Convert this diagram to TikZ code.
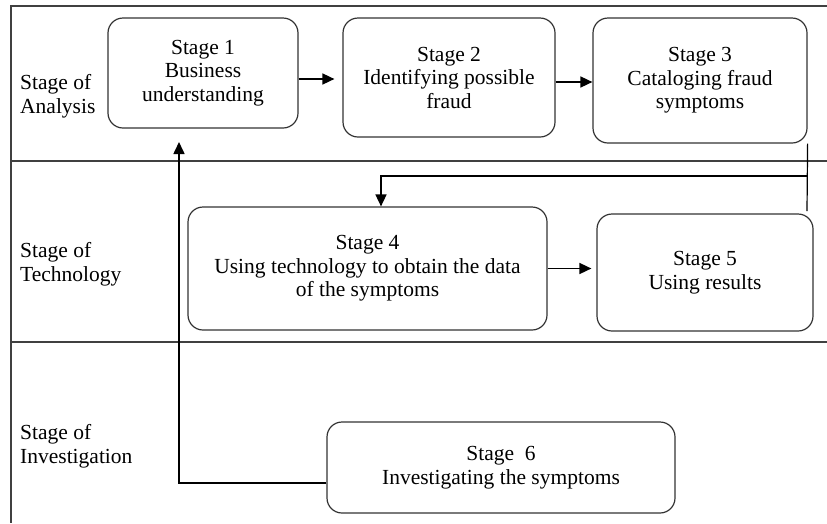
\documentclass[tikz,border=0pt]{standalone}
\usepackage{fontspec}
\setmainfont{Liberation Serif}
\usetikzlibrary{arrows.meta}
\begin{document}
\begin{tikzpicture}[x=1pt,y=-1pt,
  stagebox/.style={draw=black!80, line width=1.2pt, rounded corners=15pt, align=center, inner sep=2pt, font=\fontsize{21.5}{23.5}\selectfont},
  lanelabel/.style={anchor=west, align=left, inner sep=0pt, font=\fontsize{21.5}{24.5}\selectfont},
  frameline/.style={draw=black!75, line width=1.2pt},
  flow/.style={line width=1.6pt, -{Triangle[length=12pt,width=11pt]}},
  link/.style={line width=1.2pt}
]
\useasboundingbox (0,0) rectangle (827,523);
% lane frame
\draw[frameline] (827,6) -- (11,6) -- (11,523);
\draw[frameline] (11,161) -- (827,161);
\draw[frameline] (11,342) -- (827,342);
% lane labels
\node[lanelabel] (la) at (20,96) {Stage of\\Analysis};
\node[lanelabel] (lt) at (20,264) {Stage of\\Technology};
\node[lanelabel] (li) at (20,446) {Stage of\\Investigation};
% stages
\node[stagebox, minimum width=190pt, minimum height=110pt] (s1) at (203,73) {Stage 1\\Business\\understanding};
\node[stagebox, minimum width=212pt, minimum height=119pt] (s2) at (449,77.5) {Stage 2\\Identifying possible\\fraud};
\node[stagebox, minimum width=214pt, minimum height=125pt] (s3) at (700,80.5) {Stage 3\\Cataloging fraud\\symptoms};
\node[stagebox, minimum width=359pt, minimum height=123pt] (s4) at (367.5,268.5) {Stage 4\\Using technology to obtain the data\\of the symptoms};
\node[stagebox, minimum width=216pt, minimum height=117pt] (s5) at (705,272.5) {Stage 5\\Using results};
\node[stagebox, minimum width=348pt, minimum height=91pt] (s6) at (501,467.5) {Stage~~6\\Investigating the symptoms};
% connectors
\coordinate (a1) at (298,79);
\draw[flow, shorten >=8pt] (s1.east |- a1) -- (s2.west |- a1);
\coordinate (a2) at (555,82);
\draw[flow] (s2.east |- a2) -- (s3.west |- a2);
\draw[flow, shorten >=5pt] (s4.east) -- (s4.east -| s5.west);
\coordinate (j3) at (807,211);
\draw[link] (s3.south east) -- (j3);
\coordinate (b1) at (807,176);
\coordinate (b2) at (381,176);
\draw[flow] (b1) -- (b2) -- (b2 |- s4.north);
\coordinate (f1) at (179,483);
\coordinate (f2) at (179,142);
\draw[flow] (s6.west |- f1) -- (f1) -- (f2);
\end{tikzpicture}
\end{document}
